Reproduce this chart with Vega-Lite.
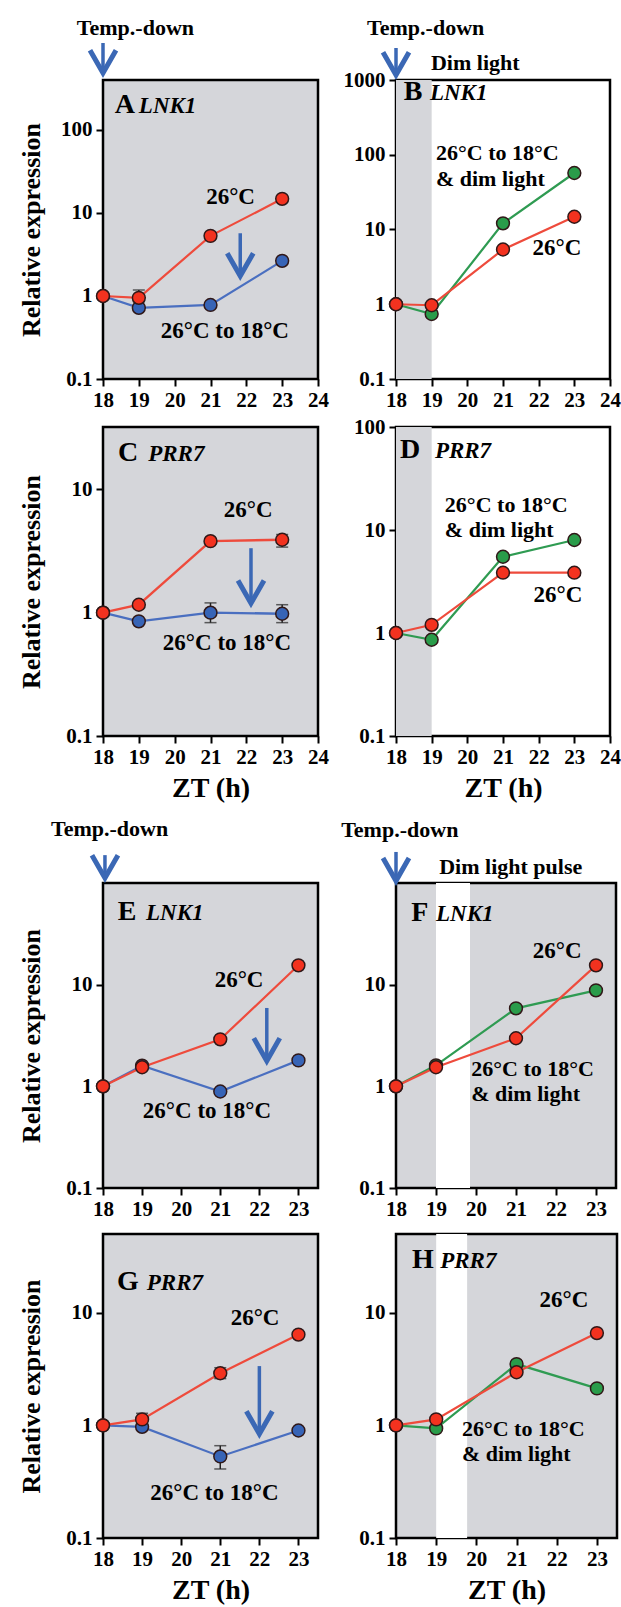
{
"$schema": "https://vega.github.io/schema/vega-lite/v6.json",
"background": "white",
"padding": {"left": 16, "top": 15, "right": 0, "bottom": 0},
"columns": 2,
"spacing": {"row": 0, "column": 78},
"bounds": "flush",
"align": "each",
"resolve": {"scale": {"x": "independent", "y": "independent"}, "axis": {"x": "independent", "y": "independent"}},
"datasets": {
"pts": [
{"panel":"A","series":"26°C to 18°C","zt":18,"val":1},{"panel":"A","series":"26°C to 18°C","zt":19,"val":0.72},{"panel":"A","series":"26°C to 18°C","zt":21,"val":0.78},{"panel":"A","series":"26°C to 18°C","zt":23,"val":2.65},
{"panel":"A","series":"26°C","zt":18,"val":1},{"panel":"A","series":"26°C","zt":19,"val":0.95},{"panel":"A","series":"26°C","zt":21,"val":5.3},{"panel":"A","series":"26°C","zt":23,"val":14.8},
{"panel":"B","series":"26°C to 18°C & dim light","zt":18,"val":1},{"panel":"B","series":"26°C to 18°C & dim light","zt":19,"val":0.74},{"panel":"B","series":"26°C to 18°C & dim light","zt":21,"val":12.1},{"panel":"B","series":"26°C to 18°C & dim light","zt":23,"val":57},
{"panel":"B","series":"26°C","zt":18,"val":1},{"panel":"B","series":"26°C","zt":19,"val":0.97},{"panel":"B","series":"26°C","zt":21,"val":5.4},{"panel":"B","series":"26°C","zt":23,"val":14.8},
{"panel":"C","series":"26°C to 18°C","zt":18,"val":1},{"panel":"C","series":"26°C to 18°C","zt":19,"val":0.85},{"panel":"C","series":"26°C to 18°C","zt":21,"val":1.0},{"panel":"C","series":"26°C to 18°C","zt":23,"val":0.98},
{"panel":"C","series":"26°C","zt":18,"val":1},{"panel":"C","series":"26°C","zt":19,"val":1.16},{"panel":"C","series":"26°C","zt":21,"val":3.8},{"panel":"C","series":"26°C","zt":23,"val":3.9},
{"panel":"D","series":"26°C to 18°C & dim light","zt":18,"val":1},{"panel":"D","series":"26°C to 18°C & dim light","zt":19,"val":0.86},{"panel":"D","series":"26°C to 18°C & dim light","zt":21,"val":5.5},{"panel":"D","series":"26°C to 18°C & dim light","zt":23,"val":8.0},
{"panel":"D","series":"26°C","zt":18,"val":1},{"panel":"D","series":"26°C","zt":19,"val":1.2},{"panel":"D","series":"26°C","zt":21,"val":3.85},{"panel":"D","series":"26°C","zt":23,"val":3.85},
{"panel":"E","series":"26°C to 18°C","zt":18,"val":1},{"panel":"E","series":"26°C to 18°C","zt":19,"val":1.6},{"panel":"E","series":"26°C to 18°C","zt":21,"val":0.89},{"panel":"E","series":"26°C to 18°C","zt":23,"val":1.8},
{"panel":"E","series":"26°C","zt":18,"val":1},{"panel":"E","series":"26°C","zt":19,"val":1.54},{"panel":"E","series":"26°C","zt":21,"val":2.9},{"panel":"E","series":"26°C","zt":23,"val":15.5},
{"panel":"F","series":"26°C to 18°C & dim light","zt":18,"val":1},{"panel":"F","series":"26°C to 18°C & dim light","zt":19,"val":1.61},{"panel":"F","series":"26°C to 18°C & dim light","zt":21,"val":5.85},{"panel":"F","series":"26°C to 18°C & dim light","zt":23,"val":8.8},
{"panel":"F","series":"26°C","zt":18,"val":1},{"panel":"F","series":"26°C","zt":19,"val":1.54},{"panel":"F","series":"26°C","zt":21,"val":2.97},{"panel":"F","series":"26°C","zt":23,"val":15.5},
{"panel":"G","series":"26°C to 18°C","zt":18,"val":1},{"panel":"G","series":"26°C to 18°C","zt":19,"val":0.97},{"panel":"G","series":"26°C to 18°C","zt":21,"val":0.53},{"panel":"G","series":"26°C to 18°C","zt":23,"val":0.9},
{"panel":"G","series":"26°C","zt":18,"val":1},{"panel":"G","series":"26°C","zt":19,"val":1.13},{"panel":"G","series":"26°C","zt":21,"val":2.9},{"panel":"G","series":"26°C","zt":23,"val":6.4},
{"panel":"H","series":"26°C to 18°C & dim light","zt":18,"val":1},{"panel":"H","series":"26°C to 18°C & dim light","zt":19,"val":0.94},{"panel":"H","series":"26°C to 18°C & dim light","zt":21,"val":3.5},{"panel":"H","series":"26°C to 18°C & dim light","zt":23,"val":2.13},
{"panel":"H","series":"26°C","zt":18,"val":1},{"panel":"H","series":"26°C","zt":19,"val":1.13},{"panel":"H","series":"26°C","zt":21,"val":2.96},{"panel":"H","series":"26°C","zt":23,"val":6.6}
],
"err": [
{"panel":"A","zt":19,"val":0.85,"val2":1.18},
{"panel":"C","zt":21,"val":0.83,"val2":1.2},
{"panel":"C","zt":23,"val":0.83,"val2":1.16},
{"panel":"C","zt":23,"val":3.4,"val2":4.3},
{"panel":"G","zt":21,"val":0.41,"val2":0.66},
{"panel":"G","zt":19,"val":1.0,"val2":1.28},
{"panel":"G","zt":21,"val":2.6,"val2":3.25}
],
"bands": [
{"panel":"B","zt":18,"zt2":19,"val":0.1,"val2":1000},
{"panel":"D","zt":18,"zt2":19,"val":0.1,"val2":100},
{"panel":"F","zt":19,"zt2":19.85,"val":0.1,"val2":100},
{"panel":"H","zt":19,"zt2":19.77,"val":0.1,"val2":50}
],
"arrows": [
{"panel":"A","zt":18,"val":486,"val2":1117},
{"panel":"A","zt":21.83,"val":1.74,"val2":5.7},
{"panel":"B","zt":18,"val":1166,"val2":2680},
{"panel":"C","zt":22.13,"val":1.19,"val2":3.33},
{"panel":"E","zt":18.05,"val":112,"val2":188},
{"panel":"E","zt":22.19,"val":1.78,"val2":5.9},
{"panel":"F","zt":18,"val":105,"val2":202},
{"panel":"G","zt":22.0,"val":0.84,"val2":3.36}
],
"notes": [
{"panel":"A","kind":"label","zt":18.33,"val":160,"text":"A"},
{"panel":"A","kind":"gene","zt":19.0,"val":160,"text":"LNK1"},
{"panel":"A","kind":"note","zt":21.56,"val":15.5,"text":"26°C"},
{"panel":"A","kind":"note","zt":21.4,"val":0.38,"text":"26°C to 18°C"},
{"panel":"A","kind":"head","zt":17.27,"val":1695,"text":"Temp.-down"},
{"panel":"B","kind":"label","zt":18.22,"val":540,"text":"B"},
{"panel":"B","kind":"gene","zt":18.95,"val":540,"text":"LNK1"},
{"panel":"B","kind":"noteL","zt":19.12,"val":105,"text":"26°C to 18°C"},
{"panel":"B","kind":"noteL","zt":19.12,"val":48,"text":"& dim light"},
{"panel":"B","kind":"note","zt":22.51,"val":5.65,"text":"26°C"},
{"panel":"B","kind":"head","zt":17.19,"val":4966,"text":"Temp.-down"},
{"panel":"B","kind":"head","zt":18.98,"val":1687,"text":"Dim light"},
{"panel":"C","kind":"label","zt":18.42,"val":16.9,"text":"C"},
{"panel":"C","kind":"gene","zt":19.26,"val":16.9,"text":"PRR7"},
{"panel":"C","kind":"note","zt":22.05,"val":6.76,"text":"26°C"},
{"panel":"C","kind":"note","zt":21.46,"val":0.567,"text":"26°C to 18°C"},
{"panel":"D","kind":"label","zt":18.11,"val":50,"text":"D"},
{"panel":"D","kind":"gene","zt":19.09,"val":50,"text":"PRR7"},
{"panel":"D","kind":"noteL","zt":19.37,"val":17.5,"text":"26°C to 18°C"},
{"panel":"D","kind":"noteL","zt":19.37,"val":10.0,"text":"& dim light"},
{"panel":"D","kind":"note","zt":22.54,"val":2.34,"text":"26°C"},
{"panel":"E","kind":"label","zt":18.38,"val":43,"text":"E"},
{"panel":"E","kind":"gene","zt":19.1,"val":43,"text":"LNK1"},
{"panel":"E","kind":"note","zt":21.48,"val":11.1,"text":"26°C"},
{"panel":"E","kind":"note","zt":20.66,"val":0.573,"text":"26°C to 18°C"},
{"panel":"E","kind":"head","zt":16.67,"val":340,"text":"Temp.-down"},
{"panel":"F","kind":"label","zt":18.38,"val":42,"text":"F"},
{"panel":"F","kind":"gene","zt":19.0,"val":42,"text":"LNK1"},
{"panel":"F","kind":"note","zt":22.03,"val":21.4,"text":"26°C"},
{"panel":"F","kind":"noteL","zt":19.88,"val":1.48,"text":"26°C to 18°C"},
{"panel":"F","kind":"noteL","zt":19.88,"val":0.84,"text":"& dim light"},
{"panel":"F","kind":"head","zt":19.08,"val":144,"text":"Dim light pulse"},
{"panel":"F","kind":"head","zt":16.63,"val":332,"text":"Temp.-down"},
{"panel":"G","kind":"label","zt":18.36,"val":15.9,"text":"G"},
{"panel":"G","kind":"gene","zt":19.12,"val":15.9,"text":"PRR7"},
{"panel":"G","kind":"note","zt":21.89,"val":8.97,"text":"26°C"},
{"panel":"G","kind":"note","zt":20.85,"val":0.25,"text":"26°C to 18°C"},
{"panel":"H","kind":"label","zt":18.4,"val":25,"text":"H"},
{"panel":"H","kind":"gene","zt":19.1,"val":25,"text":"PRR7"},
{"panel":"H","kind":"note","zt":22.18,"val":13,"text":"26°C"},
{"panel":"H","kind":"noteL","zt":19.64,"val":0.93,"text":"26°C to 18°C"},
{"panel":"H","kind":"noteL","zt":19.64,"val":0.56,"text":"& dim light"}
]
},
"concat": [
{
"width": 215, "height": 299,
"view": {"fill": "#d5d6da", "stroke": "black", "strokeWidth": 2.5},
"encoding": {
"x": {"field": "zt", "type": "quantitative", "scale": {"domain": [18, 24], "nice": false, "zero": false}, "axis": {"values": [18,19,20,21,22,23,24], "title": null}},
"y": {"field": "val", "type": "quantitative", "scale": {"type": "log", "domain": [0.1, 400], "nice": false}, "axis": {"values": [0.1,1,10,100], "format": "~g", "title": "Relative expression"}}
},
"layer": [
{"data": {"name": "pts"}, "transform": [{"filter": "datum.panel === 'A'"}], "mark": {"type": "line", "strokeWidth": 2.2}, "encoding": {"stroke": {"field": "series", "type": "nominal", "scale": {"domain": ["26°C","26°C to 18°C","26°C to 18°C & dim light"], "range": ["#ee4b3c","#4a6fc0","#2f9b52"]}, "legend": null}}},
{"data": {"name": "err"}, "transform": [{"filter": "datum.panel === 'A'"}], "mark": {"type": "errorbar", "ticks": {"size": 12, "thickness": 1.5, "color": "#222"}, "rule": {"strokeWidth": 1.5, "color": "#222"}}, "encoding": {"y2": {"field": "val2"}}},
{"data": {"name": "pts"}, "transform": [{"filter": "datum.panel === 'A'"}], "mark": {"type": "point", "shape": "circle", "filled": true, "size": 165, "stroke": "#301818", "strokeWidth": 1.5, "opacity": 1}, "encoding": {"fill": {"field": "series", "type": "nominal", "scale": {"domain": ["26°C","26°C to 18°C","26°C to 18°C & dim light"], "range": ["#f3321f","#3764b6","#2a9c4a"]}, "legend": null}}},
{"data": {"name": "arrows"}, "transform": [{"filter": "datum.panel === 'A'"}], "mark": {"type": "rule", "color": "#3b68b5", "strokeWidth": 3.5}, "encoding": {"y2": {"field": "val2"}}},
{"data": {"name": "arrows"}, "transform": [{"filter": "datum.panel === 'A'"}], "mark": {"type": "point", "shape": "M-1,-1.75L0,0L1,-1.75", "size": 676, "filled": false, "stroke": "#3b68b5", "strokeWidth": 5, "opacity": 1}},
{"data": {"name": "notes"}, "transform": [{"filter": "datum.panel === 'A' && datum.kind === 'label'"}], "mark": {"type": "text", "fontSize": 28, "align": "left", "baseline": "alphabetic"}, "encoding": {"text": {"field": "text"}}},
{"data": {"name": "notes"}, "transform": [{"filter": "datum.panel === 'A' && datum.kind === 'gene'"}], "mark": {"type": "text", "fontSize": 23, "fontStyle": "italic", "align": "left", "baseline": "alphabetic"}, "encoding": {"text": {"field": "text"}}},
{"data": {"name": "notes"}, "transform": [{"filter": "datum.panel === 'A' && datum.kind === 'note'"}], "mark": {"type": "text", "fontSize": 23, "align": "center", "baseline": "middle"}, "encoding": {"text": {"field": "text"}}},
{"data": {"name": "notes"}, "transform": [{"filter": "datum.panel === 'A' && datum.kind === 'head'"}], "mark": {"type": "text", "fontSize": 22, "align": "left", "baseline": "middle"}, "encoding": {"text": {"field": "text"}}}
]
},
{
"width": 214, "height": 299,
"view": {"fill": "white", "stroke": "black", "strokeWidth": 2.5},
"encoding": {
"x": {"field": "zt", "type": "quantitative", "scale": {"domain": [18, 24], "nice": false, "zero": false}, "axis": {"values": [18,19,20,21,22,23,24], "title": null}},
"y": {"field": "val", "type": "quantitative", "scale": {"type": "log", "domain": [0.1, 1000], "nice": false}, "axis": {"values": [0.1,1,10,100,1000], "format": "~g", "title": null}}
},
"layer": [
{"data": {"name": "bands"}, "transform": [{"filter": "datum.panel === 'B'"}], "mark": {"type": "rect", "fill": "#d5d6da"}, "encoding": {"x2": {"field": "zt2"}, "y2": {"field": "val2"}}},
{"data": {"name": "pts"}, "transform": [{"filter": "datum.panel === 'B'"}], "mark": {"type": "line", "strokeWidth": 2.2}, "encoding": {"stroke": {"field": "series", "type": "nominal", "scale": {"domain": ["26°C","26°C to 18°C","26°C to 18°C & dim light"], "range": ["#ee4b3c","#4a6fc0","#2f9b52"]}, "legend": null}}},
{"data": {"name": "pts"}, "transform": [{"filter": "datum.panel === 'B'"}], "mark": {"type": "point", "shape": "circle", "filled": true, "size": 165, "stroke": "#301818", "strokeWidth": 1.5, "opacity": 1}, "encoding": {"fill": {"field": "series", "type": "nominal", "scale": {"domain": ["26°C","26°C to 18°C","26°C to 18°C & dim light"], "range": ["#f3321f","#3764b6","#2a9c4a"]}, "legend": null}}},
{"data": {"name": "arrows"}, "transform": [{"filter": "datum.panel === 'B'"}], "mark": {"type": "rule", "color": "#3b68b5", "strokeWidth": 3.5}, "encoding": {"y2": {"field": "val2"}}},
{"data": {"name": "arrows"}, "transform": [{"filter": "datum.panel === 'B'"}], "mark": {"type": "point", "shape": "M-1,-1.75L0,0L1,-1.75", "size": 676, "filled": false, "stroke": "#3b68b5", "strokeWidth": 5, "opacity": 1}},
{"data": {"name": "notes"}, "transform": [{"filter": "datum.panel === 'B' && datum.kind === 'label'"}], "mark": {"type": "text", "fontSize": 28, "align": "left", "baseline": "alphabetic"}, "encoding": {"text": {"field": "text"}}},
{"data": {"name": "notes"}, "transform": [{"filter": "datum.panel === 'B' && datum.kind === 'gene'"}], "mark": {"type": "text", "fontSize": 23, "fontStyle": "italic", "align": "left", "baseline": "alphabetic"}, "encoding": {"text": {"field": "text"}}},
{"data": {"name": "notes"}, "transform": [{"filter": "datum.panel === 'B' && datum.kind === 'note'"}], "mark": {"type": "text", "fontSize": 23, "align": "center", "baseline": "middle"}, "encoding": {"text": {"field": "text"}}},
{"data": {"name": "notes"}, "transform": [{"filter": "datum.panel === 'B' && datum.kind === 'noteL'"}], "mark": {"type": "text", "fontSize": 22, "align": "left", "baseline": "middle"}, "encoding": {"text": {"field": "text"}}},
{"data": {"name": "notes"}, "transform": [{"filter": "datum.panel === 'B' && datum.kind === 'head'"}], "mark": {"type": "text", "fontSize": 22, "align": "left", "baseline": "middle"}, "encoding": {"text": {"field": "text"}}}
]
},
{"width": 1, "height": 48, "view": {"stroke": null, "fill": null}, "data": {"values": [{"a": 1}]}, "mark": {"type": "point", "opacity": 0}},
{"width": 1, "height": 48, "view": {"stroke": null, "fill": null}, "data": {"values": [{"a": 1}]}, "mark": {"type": "point", "opacity": 0}},
{
"width": 215, "height": 309,
"view": {"fill": "#d5d6da", "stroke": "black", "strokeWidth": 2.5},
"encoding": {
"x": {"field": "zt", "type": "quantitative", "scale": {"domain": [18, 24], "nice": false, "zero": false}, "axis": {"values": [18,19,20,21,22,23,24], "title": "ZT (h)"}},
"y": {"field": "val", "type": "quantitative", "scale": {"type": "log", "domain": [0.1, 32], "nice": false}, "axis": {"values": [0.1,1,10], "format": "~g", "title": "Relative expression"}}
},
"layer": [
{"data": {"name": "pts"}, "transform": [{"filter": "datum.panel === 'C'"}], "mark": {"type": "line", "strokeWidth": 2.4}, "encoding": {"stroke": {"field": "series", "type": "nominal", "scale": {"domain": ["26°C","26°C to 18°C","26°C to 18°C & dim light"], "range": ["#ee4b3c","#4a6fc0","#2f9b52"]}, "legend": null}}},
{"data": {"name": "err"}, "transform": [{"filter": "datum.panel === 'C'"}], "mark": {"type": "errorbar", "ticks": {"size": 12, "thickness": 1.5, "color": "#222"}, "rule": {"strokeWidth": 1.5, "color": "#222"}}, "encoding": {"y2": {"field": "val2"}}},
{"data": {"name": "pts"}, "transform": [{"filter": "datum.panel === 'C'"}], "mark": {"type": "point", "shape": "circle", "filled": true, "size": 165, "stroke": "#301818", "strokeWidth": 1.5, "opacity": 1}, "encoding": {"fill": {"field": "series", "type": "nominal", "scale": {"domain": ["26°C","26°C to 18°C","26°C to 18°C & dim light"], "range": ["#f3321f","#3764b6","#2a9c4a"]}, "legend": null}}},
{"data": {"name": "arrows"}, "transform": [{"filter": "datum.panel === 'C'"}], "mark": {"type": "rule", "color": "#3b68b5", "strokeWidth": 3.5}, "encoding": {"y2": {"field": "val2"}}},
{"data": {"name": "arrows"}, "transform": [{"filter": "datum.panel === 'C'"}], "mark": {"type": "point", "shape": "M-1,-1.75L0,0L1,-1.75", "size": 676, "filled": false, "stroke": "#3b68b5", "strokeWidth": 5, "opacity": 1}},
{"data": {"name": "notes"}, "transform": [{"filter": "datum.panel === 'C' && datum.kind === 'label'"}], "mark": {"type": "text", "fontSize": 28, "align": "left", "baseline": "alphabetic"}, "encoding": {"text": {"field": "text"}}},
{"data": {"name": "notes"}, "transform": [{"filter": "datum.panel === 'C' && datum.kind === 'gene'"}], "mark": {"type": "text", "fontSize": 23, "fontStyle": "italic", "align": "left", "baseline": "alphabetic"}, "encoding": {"text": {"field": "text"}}},
{"data": {"name": "notes"}, "transform": [{"filter": "datum.panel === 'C' && datum.kind === 'note'"}], "mark": {"type": "text", "fontSize": 23, "align": "center", "baseline": "middle"}, "encoding": {"text": {"field": "text"}}}
]
},
{
"width": 214, "height": 309,
"view": {"fill": "white", "stroke": "black", "strokeWidth": 2.5},
"encoding": {
"x": {"field": "zt", "type": "quantitative", "scale": {"domain": [18, 24], "nice": false, "zero": false}, "axis": {"values": [18,19,20,21,22,23,24], "title": "ZT (h)"}},
"y": {"field": "val", "type": "quantitative", "scale": {"type": "log", "domain": [0.1, 100], "nice": false}, "axis": {"values": [0.1,1,10,100], "format": "~g", "title": null}}
},
"layer": [
{"data": {"name": "bands"}, "transform": [{"filter": "datum.panel === 'D'"}], "mark": {"type": "rect", "fill": "#d5d6da"}, "encoding": {"x2": {"field": "zt2"}, "y2": {"field": "val2"}}},
{"data": {"name": "pts"}, "transform": [{"filter": "datum.panel === 'D'"}], "mark": {"type": "line", "strokeWidth": 2.2}, "encoding": {"stroke": {"field": "series", "type": "nominal", "scale": {"domain": ["26°C","26°C to 18°C","26°C to 18°C & dim light"], "range": ["#ee4b3c","#4a6fc0","#2f9b52"]}, "legend": null}}},
{"data": {"name": "pts"}, "transform": [{"filter": "datum.panel === 'D'"}], "mark": {"type": "point", "shape": "circle", "filled": true, "size": 165, "stroke": "#301818", "strokeWidth": 1.5, "opacity": 1}, "encoding": {"fill": {"field": "series", "type": "nominal", "scale": {"domain": ["26°C","26°C to 18°C","26°C to 18°C & dim light"], "range": ["#f3321f","#3764b6","#2a9c4a"]}, "legend": null}}},
{"data": {"name": "notes"}, "transform": [{"filter": "datum.panel === 'D' && datum.kind === 'label'"}], "mark": {"type": "text", "fontSize": 28, "align": "left", "baseline": "alphabetic"}, "encoding": {"text": {"field": "text"}}},
{"data": {"name": "notes"}, "transform": [{"filter": "datum.panel === 'D' && datum.kind === 'gene'"}], "mark": {"type": "text", "fontSize": 23, "fontStyle": "italic", "align": "left", "baseline": "alphabetic"}, "encoding": {"text": {"field": "text"}}},
{"data": {"name": "notes"}, "transform": [{"filter": "datum.panel === 'D' && datum.kind === 'note'"}], "mark": {"type": "text", "fontSize": 23, "align": "center", "baseline": "middle"}, "encoding": {"text": {"field": "text"}}},
{"data": {"name": "notes"}, "transform": [{"filter": "datum.panel === 'D' && datum.kind === 'noteL'"}], "mark": {"type": "text", "fontSize": 22, "align": "left", "baseline": "middle"}, "encoding": {"text": {"field": "text"}}}
]
},
{"width": 1, "height": 147, "view": {"stroke": null, "fill": null}, "data": {"values": [{"a": 1}]}, "mark": {"type": "point", "opacity": 0}},
{"width": 1, "height": 147, "view": {"stroke": null, "fill": null}, "data": {"values": [{"a": 1}]}, "mark": {"type": "point", "opacity": 0}},
{
"width": 215, "height": 305,
"view": {"fill": "#d5d6da", "stroke": "black", "strokeWidth": 2.5},
"encoding": {
"x": {"field": "zt", "type": "quantitative", "scale": {"domain": [18, 23.5], "nice": false, "zero": false}, "axis": {"values": [18,19,20,21,22,23], "title": null}},
"y": {"field": "val", "type": "quantitative", "scale": {"type": "log", "domain": [0.1, 100], "nice": false}, "axis": {"values": [0.1,1,10], "format": "~g", "title": "Relative expression"}}
},
"layer": [
{"data": {"name": "pts"}, "transform": [{"filter": "datum.panel === 'E'"}], "mark": {"type": "line", "strokeWidth": 2.2}, "encoding": {"stroke": {"field": "series", "type": "nominal", "scale": {"domain": ["26°C","26°C to 18°C","26°C to 18°C & dim light"], "range": ["#ee4b3c","#4a6fc0","#2f9b52"]}, "legend": null}}},
{"data": {"name": "pts"}, "transform": [{"filter": "datum.panel === 'E'"}], "mark": {"type": "point", "shape": "circle", "filled": true, "size": 165, "stroke": "#301818", "strokeWidth": 1.5, "opacity": 1}, "encoding": {"fill": {"field": "series", "type": "nominal", "scale": {"domain": ["26°C","26°C to 18°C","26°C to 18°C & dim light"], "range": ["#f3321f","#3764b6","#2a9c4a"]}, "legend": null}}},
{"data": {"name": "arrows"}, "transform": [{"filter": "datum.panel === 'E'"}], "mark": {"type": "rule", "color": "#3b68b5", "strokeWidth": 3.5}, "encoding": {"y2": {"field": "val2"}}},
{"data": {"name": "arrows"}, "transform": [{"filter": "datum.panel === 'E'"}], "mark": {"type": "point", "shape": "M-1,-1.75L0,0L1,-1.75", "size": 676, "filled": false, "stroke": "#3b68b5", "strokeWidth": 5, "opacity": 1}},
{"data": {"name": "notes"}, "transform": [{"filter": "datum.panel === 'E' && datum.kind === 'label'"}], "mark": {"type": "text", "fontSize": 28, "align": "left", "baseline": "alphabetic"}, "encoding": {"text": {"field": "text"}}},
{"data": {"name": "notes"}, "transform": [{"filter": "datum.panel === 'E' && datum.kind === 'gene'"}], "mark": {"type": "text", "fontSize": 23, "fontStyle": "italic", "align": "left", "baseline": "alphabetic"}, "encoding": {"text": {"field": "text"}}},
{"data": {"name": "notes"}, "transform": [{"filter": "datum.panel === 'E' && datum.kind === 'note'"}], "mark": {"type": "text", "fontSize": 23, "align": "center", "baseline": "middle"}, "encoding": {"text": {"field": "text"}}},
{"data": {"name": "notes"}, "transform": [{"filter": "datum.panel === 'E' && datum.kind === 'head'"}], "mark": {"type": "text", "fontSize": 22, "align": "left", "baseline": "middle"}, "encoding": {"text": {"field": "text"}}}
]
},
{
"width": 220, "height": 305,
"view": {"fill": "#d5d6da", "stroke": "black", "strokeWidth": 2.5},
"encoding": {
"x": {"field": "zt", "type": "quantitative", "scale": {"domain": [18, 23.5], "nice": false, "zero": false}, "axis": {"values": [18,19,20,21,22,23], "title": null}},
"y": {"field": "val", "type": "quantitative", "scale": {"type": "log", "domain": [0.1, 100], "nice": false}, "axis": {"values": [0.1,1,10], "format": "~g", "title": null}}
},
"layer": [
{"data": {"name": "bands"}, "transform": [{"filter": "datum.panel === 'F'"}], "mark": {"type": "rect", "fill": "white"}, "encoding": {"x2": {"field": "zt2"}, "y2": {"field": "val2"}}},
{"data": {"name": "pts"}, "transform": [{"filter": "datum.panel === 'F'"}], "mark": {"type": "line", "strokeWidth": 2.2}, "encoding": {"stroke": {"field": "series", "type": "nominal", "scale": {"domain": ["26°C","26°C to 18°C","26°C to 18°C & dim light"], "range": ["#ee4b3c","#4a6fc0","#2f9b52"]}, "legend": null}}},
{"data": {"name": "pts"}, "transform": [{"filter": "datum.panel === 'F'"}], "mark": {"type": "point", "shape": "circle", "filled": true, "size": 165, "stroke": "#301818", "strokeWidth": 1.5, "opacity": 1}, "encoding": {"fill": {"field": "series", "type": "nominal", "scale": {"domain": ["26°C","26°C to 18°C","26°C to 18°C & dim light"], "range": ["#f3321f","#3764b6","#2a9c4a"]}, "legend": null}}},
{"data": {"name": "arrows"}, "transform": [{"filter": "datum.panel === 'F'"}], "mark": {"type": "rule", "color": "#3b68b5", "strokeWidth": 3.5}, "encoding": {"y2": {"field": "val2"}}},
{"data": {"name": "arrows"}, "transform": [{"filter": "datum.panel === 'F'"}], "mark": {"type": "point", "shape": "M-1,-1.75L0,0L1,-1.75", "size": 676, "filled": false, "stroke": "#3b68b5", "strokeWidth": 5, "opacity": 1}},
{"data": {"name": "notes"}, "transform": [{"filter": "datum.panel === 'F' && datum.kind === 'label'"}], "mark": {"type": "text", "fontSize": 28, "align": "left", "baseline": "alphabetic"}, "encoding": {"text": {"field": "text"}}},
{"data": {"name": "notes"}, "transform": [{"filter": "datum.panel === 'F' && datum.kind === 'gene'"}], "mark": {"type": "text", "fontSize": 23, "fontStyle": "italic", "align": "left", "baseline": "alphabetic"}, "encoding": {"text": {"field": "text"}}},
{"data": {"name": "notes"}, "transform": [{"filter": "datum.panel === 'F' && datum.kind === 'note'"}], "mark": {"type": "text", "fontSize": 23, "align": "center", "baseline": "middle"}, "encoding": {"text": {"field": "text"}}},
{"data": {"name": "notes"}, "transform": [{"filter": "datum.panel === 'F' && datum.kind === 'noteL'"}], "mark": {"type": "text", "fontSize": 22, "align": "left", "baseline": "middle"}, "encoding": {"text": {"field": "text"}}},
{"data": {"name": "notes"}, "transform": [{"filter": "datum.panel === 'F' && datum.kind === 'head'"}], "mark": {"type": "text", "fontSize": 22, "align": "left", "baseline": "middle"}, "encoding": {"text": {"field": "text"}}}
]
},
{"width": 1, "height": 46, "view": {"stroke": null, "fill": null}, "data": {"values": [{"a": 1}]}, "mark": {"type": "point", "opacity": 0}},
{"width": 1, "height": 46, "view": {"stroke": null, "fill": null}, "data": {"values": [{"a": 1}]}, "mark": {"type": "point", "opacity": 0}},
{
"width": 215, "height": 304,
"view": {"fill": "#d5d6da", "stroke": "black", "strokeWidth": 2.5},
"encoding": {
"x": {"field": "zt", "type": "quantitative", "scale": {"domain": [18, 23.5], "nice": false, "zero": false}, "axis": {"values": [18,19,20,21,22,23], "title": "ZT (h)"}},
"y": {"field": "val", "type": "quantitative", "scale": {"type": "log", "domain": [0.1, 50], "nice": false}, "axis": {"values": [0.1,1,10], "format": "~g", "title": "Relative expression"}}
},
"layer": [
{"data": {"name": "pts"}, "transform": [{"filter": "datum.panel === 'G'"}], "mark": {"type": "line", "strokeWidth": 2.2}, "encoding": {"stroke": {"field": "series", "type": "nominal", "scale": {"domain": ["26°C","26°C to 18°C","26°C to 18°C & dim light"], "range": ["#ee4b3c","#4a6fc0","#2f9b52"]}, "legend": null}}},
{"data": {"name": "err"}, "transform": [{"filter": "datum.panel === 'G'"}], "mark": {"type": "errorbar", "ticks": {"size": 12, "thickness": 1.5, "color": "#222"}, "rule": {"strokeWidth": 1.5, "color": "#222"}}, "encoding": {"y2": {"field": "val2"}}},
{"data": {"name": "pts"}, "transform": [{"filter": "datum.panel === 'G'"}], "mark": {"type": "point", "shape": "circle", "filled": true, "size": 165, "stroke": "#301818", "strokeWidth": 1.5, "opacity": 1}, "encoding": {"fill": {"field": "series", "type": "nominal", "scale": {"domain": ["26°C","26°C to 18°C","26°C to 18°C & dim light"], "range": ["#f3321f","#3764b6","#2a9c4a"]}, "legend": null}}},
{"data": {"name": "arrows"}, "transform": [{"filter": "datum.panel === 'G'"}], "mark": {"type": "rule", "color": "#3b68b5", "strokeWidth": 3.5}, "encoding": {"y2": {"field": "val2"}}},
{"data": {"name": "arrows"}, "transform": [{"filter": "datum.panel === 'G'"}], "mark": {"type": "point", "shape": "M-1,-1.75L0,0L1,-1.75", "size": 676, "filled": false, "stroke": "#3b68b5", "strokeWidth": 5, "opacity": 1}},
{"data": {"name": "notes"}, "transform": [{"filter": "datum.panel === 'G' && datum.kind === 'label'"}], "mark": {"type": "text", "fontSize": 28, "align": "left", "baseline": "alphabetic"}, "encoding": {"text": {"field": "text"}}},
{"data": {"name": "notes"}, "transform": [{"filter": "datum.panel === 'G' && datum.kind === 'gene'"}], "mark": {"type": "text", "fontSize": 23, "fontStyle": "italic", "align": "left", "baseline": "alphabetic"}, "encoding": {"text": {"field": "text"}}},
{"data": {"name": "notes"}, "transform": [{"filter": "datum.panel === 'G' && datum.kind === 'note'"}], "mark": {"type": "text", "fontSize": 23, "align": "center", "baseline": "middle"}, "encoding": {"text": {"field": "text"}}}
]
},
{
"width": 221, "height": 304,
"view": {"fill": "#d5d6da", "stroke": "black", "strokeWidth": 2.5},
"encoding": {
"x": {"field": "zt", "type": "quantitative", "scale": {"domain": [18, 23.5], "nice": false, "zero": false}, "axis": {"values": [18,19,20,21,22,23], "title": "ZT (h)"}},
"y": {"field": "val", "type": "quantitative", "scale": {"type": "log", "domain": [0.1, 50], "nice": false}, "axis": {"values": [0.1,1,10], "format": "~g", "title": null}}
},
"layer": [
{"data": {"name": "bands"}, "transform": [{"filter": "datum.panel === 'H'"}], "mark": {"type": "rect", "fill": "white"}, "encoding": {"x2": {"field": "zt2"}, "y2": {"field": "val2"}}},
{"data": {"name": "pts"}, "transform": [{"filter": "datum.panel === 'H'"}], "mark": {"type": "line", "strokeWidth": 2.2}, "encoding": {"stroke": {"field": "series", "type": "nominal", "scale": {"domain": ["26°C","26°C to 18°C","26°C to 18°C & dim light"], "range": ["#ee4b3c","#4a6fc0","#2f9b52"]}, "legend": null}}},
{"data": {"name": "pts"}, "transform": [{"filter": "datum.panel === 'H'"}], "mark": {"type": "point", "shape": "circle", "filled": true, "size": 165, "stroke": "#301818", "strokeWidth": 1.5, "opacity": 1}, "encoding": {"fill": {"field": "series", "type": "nominal", "scale": {"domain": ["26°C","26°C to 18°C","26°C to 18°C & dim light"], "range": ["#f3321f","#3764b6","#2a9c4a"]}, "legend": null}}},
{"data": {"name": "notes"}, "transform": [{"filter": "datum.panel === 'H' && datum.kind === 'label'"}], "mark": {"type": "text", "fontSize": 28, "align": "left", "baseline": "alphabetic"}, "encoding": {"text": {"field": "text"}}},
{"data": {"name": "notes"}, "transform": [{"filter": "datum.panel === 'H' && datum.kind === 'gene'"}], "mark": {"type": "text", "fontSize": 23, "fontStyle": "italic", "align": "left", "baseline": "alphabetic"}, "encoding": {"text": {"field": "text"}}},
{"data": {"name": "notes"}, "transform": [{"filter": "datum.panel === 'H' && datum.kind === 'note'"}], "mark": {"type": "text", "fontSize": 23, "align": "center", "baseline": "middle"}, "encoding": {"text": {"field": "text"}}},
{"data": {"name": "notes"}, "transform": [{"filter": "datum.panel === 'H' && datum.kind === 'noteL'"}], "mark": {"type": "text", "fontSize": 22, "align": "left", "baseline": "middle"}, "encoding": {"text": {"field": "text"}}}
]
}
],
"config": {
"font": "Liberation Serif, Times New Roman, DejaVu Serif, serif",
"view": {"stroke": "black", "strokeWidth": 2.5},
"axis": {"domain": false, "grid": false, "ticks": true, "tickColor": "black", "tickWidth": 2, "tickSize": 7, "labelFont": "Liberation Serif, Times New Roman, DejaVu Serif, serif", "labelFontSize": 21, "labelFontWeight": "bold", "labelColor": "black", "labelOverlap": false, "labelFlush": false, "titleFont": "Liberation Serif, Times New Roman, DejaVu Serif, serif", "titleFontWeight": "bold", "titleColor": "black"},
"axisX": {"labelPadding": 3, "titleFontSize": 28, "titlePadding": 7},
"axisY": {"labelPadding": 4, "titleFontSize": 26, "titlePadding": 14, "minExtent": 45, "maxExtent": 45},
"text": {"font": "Liberation Serif, Times New Roman, DejaVu Serif, serif", "fontWeight": "bold", "color": "black"}
}
}
